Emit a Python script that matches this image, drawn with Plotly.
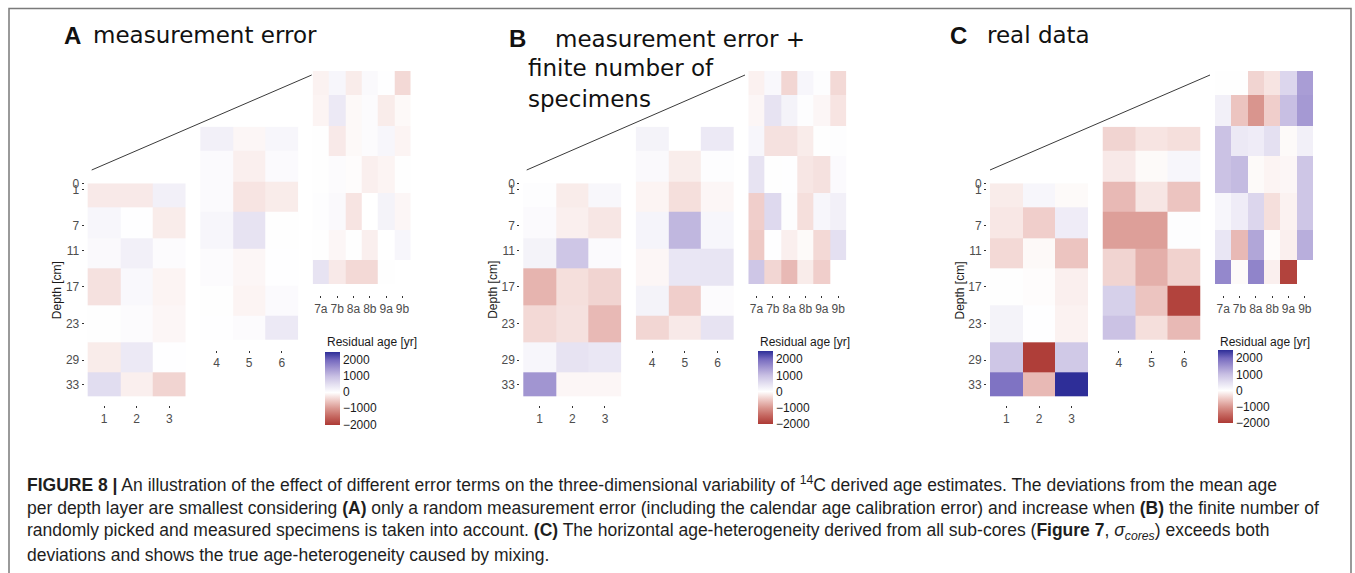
import plotly.graph_objects as go

W, H = 1355, 573

# ---------------------------------------------------------------- data
DEPTH_EDGES = [0, 4, 9, 14, 20, 26, 31, 35]
DEPTH_TICKS = [0, 1, 7, 11, 17, 23, 29, 33]
FRONT_CORES = ["1", "2", "3"]
MIDDLE_CORES = ["4", "5", "6"]
BACK_CORES = ["7a", "7b", "8a", "8b", "9a", "9b"]
CBAR_TICKS = [-2000, -1000, 0, 1000, 2000]
CBAR_LABELS = ["\u22122000", "\u22121000", "0", "1000", "2000"]

# residual age [yr], one row per depth layer (top to bottom)
A_FRONT = [
    [-200, -200, 250],
    [150, 10, -180],
    [100, 250, 60],
    [-280, 120, -100],
    [20, 60, -80],
    [-180, 350, 10],
    [550, -150, -400],
]
A_MIDDLE = [
    [250, -80, 150],
    [80, -150, 80],
    [80, -250, -180],
    [150, 450, 20],
    [60, -80, 10],
    [20, -100, 80],
    [15, 60, 350],
]
A_BACK = [
    [-120, 150, -180, 100, 10, -350],
    [-100, 350, -60, 60, -180, -60],
    [20, -200, -60, 60, 150, -100],
    [20, 60, -30, -150, -100, 20],
    [30, 100, -250, 0, 200, -80],
    [20, -80, 20, -150, 0, 150],
    [450, -200, -350, -350, 20, None],
]

B_FRONT = [
    [30, -180, 130],
    [80, -150, -230],
    [200, 900, 80],
    [-700, -300, -400],
    [-350, -280, -650],
    [150, 450, 380],
    [1500, -80, -80],
]
B_MIDDLE = [
    [200, None, 350],
    [100, -170, 30],
    [-100, -300, -80],
    [180, 1100, 150],
    [-80, 400, 420],
    [200, -450, 60],
    [-380, -200, 450],
]
B_BACK = [
    [-130, 120, -380, 150, 30, -350],
    [-80, 450, 200, 30, -80, -250],
    [150, -280, -280, -180, 20, 30],
    [450, 20, 10, -230, -280, 80],
    [-450, 600, 30, -300, 150, 250],
    [-500, 10, -150, -50, -350, 500],
    [900, -380, -650, -180, -450, None],
]

C_FRONT = [
    [-180, 150, -50],
    [-220, -450, 300],
    [-350, -60, -550],
    [20, -30, -150],
    [200, 10, -120],
    [900, -1950, 850],
    [1900, -650, 2500],
]
C_MIDDLE = [
    [-400, -250, -300],
    [-200, -50, 150],
    [-650, -230, -550],
    [-900, -900, 40],
    [-400, -750, -420],
    [750, -550, -1900],
    [950, -300, -650],
]
C_BACK = [
    [20, 20, -400, -250, 650, 1400],
    [250, -550, -1000, -450, 1000, 1450],
    [950, 350, 300, 500, -50, 250],
    [950, 1050, -50, -100, -80, 900],
    [150, 300, 650, -300, -120, 900],
    [400, -650, 1300, -40, -150, 1200],
    [1650, -50, 1700, -150, -1900, None],
]

PANELS = [
    {"letter": "A", "blocks": [A_FRONT, A_MIDDLE, A_BACK]},
    {"letter": "B", "blocks": [B_FRONT, B_MIDDLE, B_BACK]},
    {"letter": "C", "blocks": [C_FRONT, C_MIDDLE, C_BACK]},
]
BLOCK_CORES = [FRONT_CORES, MIDDLE_CORES, BACK_CORES]

# ---------------------------------------------------------------- layout (pixels)
ZMIN, ZMAX = -2000, 2500
PANEL_LEFT = [87.7, 523.3, 990.0]
BLOCK_SHIFT = [(0.0, 0.0, 8.5), (112.5, -56.6, 9.5), (225.0, -112.3, 11.0)]
TOP0 = 183.3
TILE_H = 213.4
TILE_W = 98.0
PPC = TILE_H / DEPTH_EDGES[-1]
CB_LEFT = [325.0, 757.7, 1218.0]
CB_TOP = [351.5, 351.0, 350.0]
DIAGONALS = [((91.7, 170), (311.7, 75)), ((526.7, 170), (745.0, 75)), ((990.0, 170), (1210.0, 75))]


def fx(px):
    return px / W


def fy(py):
    return 1 - py / H


def colorscale():
    stops = [
        (-2000, "#ad3a35"),
        (-1500, "#c4655e"),
        (-1000, "#d9958e"),
        (-500, "#eec9c5"),
        (0, "#ffffff"),
        (500, "#e4e0f1"),
        (1000, "#c8bfe3"),
        (1500, "#a195d1"),
        (2000, "#766abf"),
        (2500, "#2e2e98"),
    ]
    return [[(v - ZMIN) / (ZMAX - ZMIN), c] for v, c in stops]


fig = go.Figure()
layout = dict(
    width=W,
    height=H,
    autosize=False,
    margin=dict(l=0, r=0, t=0, b=0, pad=0, autoexpand=False),
    paper_bgcolor="white",
    plot_bgcolor="rgba(0,0,0,0)",
    showlegend=False,
    annotations=[],
    shapes=[],
)

SANS = "Liberation Sans, Arial, sans-serif"
TICK_FONT = dict(family=SANS, size=12, color="#4d4d4d")

for p, panel in enumerate(PANELS):
    cax = "coloraxis" if p == 0 else f"coloraxis{p + 1}"
    layout[cax] = dict(
        colorscale=colorscale(),
        cmin=ZMIN,
        cmax=ZMAX,
        colorbar=dict(
            x=fx(CB_LEFT[p]),
            xanchor="left",
            y=fy(CB_TOP[p]),
            yanchor="top",
            len=73,
            lenmode="pixels",
            thickness=15,
            thicknessmode="pixels",
            xpad=0,
            ypad=0,
            outlinewidth=0,
            tickvals=CBAR_TICKS,
            ticktext=CBAR_LABELS,
            ticks="",
            tickfont=dict(family=SANS, size=12, color="#1a1a1a"),
        ),
    )
    layout["annotations"].append(dict(
        text="Residual age [yr]", xref="paper", yref="paper",
        x=fx(CB_LEFT[p]), y=fy(341.5), xanchor="left", yanchor="middle",
        showarrow=False, font=dict(family=SANS, size=12, color="#1a1a1a"),
    ))

    for b, z in enumerate(panel["blocks"]):
        k = p * 3 + b + 1
        cores = BLOCK_CORES[b]
        n = len(cores)
        dx, dy, gap = BLOCK_SHIFT[b]
        L = PANEL_LEFT[p] + dx
        T = TOP0 + dy
        Bt = T + TILE_H
        pad_left = 3.0 if b == 0 else 0.0
        colw = TILE_W / n
        xa = "x" if k == 1 else f"x{k}"
        ya = "y" if k == 1 else f"y{k}"
        fig.add_trace(go.Heatmap(
            z=z,
            x=list(range(n + 1)),
            y=DEPTH_EDGES,
            coloraxis=cax,
            xaxis=xa,
            yaxis=ya,
            hoverinfo="skip",
        ))
        xkey = "xaxis" if k == 1 else f"xaxis{k}"
        ykey = "yaxis" if k == 1 else f"yaxis{k}"
        layout[xkey] = dict(
            domain=[fx(L - pad_left), fx(L + TILE_W)],
            range=[-pad_left / colw, n],
            anchor=ya,
            tickmode="array",
            tickvals=[i + 0.5 for i in range(n)],
            ticktext=cores,
            ticks="outside",
            ticklen=2,
            tickwidth=1,
            tickcolor="#333333",
            tickfont=TICK_FONT,
            showgrid=False,
            zeroline=False,
            showline=False,
            fixedrange=True,
            automargin=False,
        )
        yax = dict(
            domain=[fy(Bt + gap), fy(T)],
            range=[DEPTH_EDGES[-1] + gap / PPC, 0],
            anchor=xa,
            showgrid=False,
            zeroline=False,
            showline=False,
            fixedrange=True,
            automargin=False,
        )
        if b == 0:
            yax.update(
                tickmode="array",
                tickvals=DEPTH_TICKS,
                ticktext=[str(t) for t in DEPTH_TICKS],
                ticks="outside",
                ticklen=2,
                tickwidth=1,
                tickcolor="#333333",
                tickfont=TICK_FONT,
            )
        else:
            yax.update(showticklabels=False, ticks="")
        layout[ykey] = yax

    # depth axis title
    layout["annotations"].append(dict(
        text="Depth [cm]", xref="paper", yref="paper",
        x=fx(PANEL_LEFT[p] - 30.5), y=fy(TOP0 + TILE_H / 2), xanchor="center", yanchor="middle",
        textangle=-90, showarrow=False,
        font=dict(family=SANS, size=12, color="#1a1a1a"),
    ))

    # perspective guide line
    (x0, y0), (x1, y1) = DIAGONALS[p]
    layout["shapes"].append(dict(
        type="line", xref="paper", yref="paper",
        x0=fx(x0), y0=fy(y0), x1=fx(x1), y1=fy(y1),
        line=dict(color="#3a3a3a", width=1),
    ))

# ---------------------------------------------------------------- panel titles
LETTER_FONT = dict(family=SANS, size=24, color="#111111")
TITLE_FONT = dict(family="DejaVu Sans, Verdana, sans-serif", size=23, color="#111111")
titles = [
    ("<b>A</b>", 61.5, 35.5, LETTER_FONT),
    ("measurement error", 90.5, 35.5, TITLE_FONT),
    ("<b>B</b>", 506.5, 38.5, LETTER_FONT),
    ("measurement error +", 552.5, 38.5, TITLE_FONT),
    ("finite number of", 526.0, 68.5, TITLE_FONT),
    ("specimens", 526.0, 98.5, TITLE_FONT),
    ("<b>C</b>", 947.5, 35.5, LETTER_FONT),
    ("real data", 985.0, 35.5, TITLE_FONT),
]
for text, x, y, font in titles:
    layout["annotations"].append(dict(
        text=text, xref="paper", yref="paper", x=fx(x), y=fy(y),
        xanchor="left", yanchor="middle", showarrow=False, font=font,
    ))

# ---------------------------------------------------------------- caption
CAPTION = [
    "<b>FIGURE 8 |</b> An illustration of the effect of different error terms on the three-dimensional "
    "variability of <sup>14</sup>C derived age estimates. The deviations from the mean age",
    "per depth layer are smallest considering <b>(A)</b> only a random measurement error (including the "
    "calendar age calibration error) and increase when <b>(B)</b> the finite number of",
    "randomly picked and measured specimens is taken into account. <b>(C)</b> The horizontal "
    "age-heterogeneity derived from all sub-cores (<b>Figure 7</b>, <i>\u03c3<sub>cores</sub></i>) exceeds both",
    "deviations and shows the true age-heterogeneity caused by mixing.",
]
CAPTION_Y = [484.0, 507.5, 531.0, 554.5]
for text, y in zip(CAPTION, CAPTION_Y):
    layout["annotations"].append(dict(
        text=text, xref="paper", yref="paper", x=fx(25), y=fy(y),
        xanchor="left", yanchor="middle", showarrow=False,
        font=dict(family=SANS, size=17.5, color="#1e1e1e"),
    ))

# outer frame
layout["shapes"].append(dict(
    type="rect", xref="paper", yref="paper",
    x0=fx(9), y0=fy(590), x1=fx(1351), y1=fy(8.5),
    line=dict(color="#7a7a7a", width=1.5), fillcolor="rgba(0,0,0,0)", layer="below",
))

fig.update_layout(**layout)
fig.write_html(
    "out.html",
    post_script="document.body.style.margin='0';document.body.style.overflow='hidden';",
)
